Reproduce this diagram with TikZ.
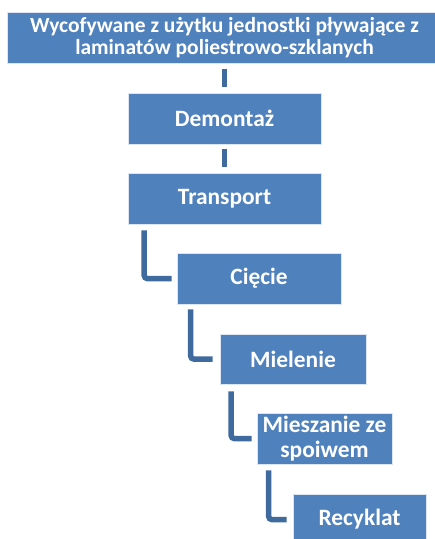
\documentclass[tikz,border=0pt]{standalone}
\usepackage{fontspec}
\setmainfont{Carlito}
\definecolor{boxblue}{HTML}{4F81BD}
\definecolor{connblue}{HTML}{3F6A9E}
\begin{document}
\begin{tikzpicture}[x=1bp,y=-1bp,
  box/.style={fill=boxblue, draw=white!80!boxblue, line width=0.6bp, inner sep=0pt,
    text=white, font=\bfseries\fontsize{23.5}{25}\selectfont, align=center,
    minimum height=51bp},
  conn/.style={draw=connblue, line width=5.5bp, rounded corners=3bp}]
\useasboundingbox (0,0) rectangle (435,539);
\clip (0,0) rectangle (435,539);
\node[box, minimum width=435bp, font=\bfseries\fontsize{21.6}{21.5}\selectfont] (top) at (224.5,37.5)
  {Wycofywane z użytku jednostki pływające z\\laminatów poliestrowo-szklanych};
\node[box, minimum width=193bp] (dem) at (224.5,118.5) {Demontaż};
\node[box, minimum width=193bp] (tr) at (224.5,198.5) {Transport};
\node[box, minimum width=164bp] (cie) at (259,278.5) {Cięcie};
\node[box, minimum width=146bp, minimum height=50bp] (miel) at (293,359) {Mielenie};
\node[box, minimum width=135bp] (mies) at (324.5,438.5) {Mieszanie ze\\spoiwem};
\node[box, minimum width=133bp] (rec) at (359.5,519.5) {Recyklat};
\draw[conn] ([yshift=-6bp]top.south -| dem.north) -- ([yshift=6bp]dem.north);
\draw[conn] ([yshift=-5bp]dem.south) -- ([yshift=6bp]tr.north);
\draw[conn] ([xshift=16.5bp,yshift=-6bp]tr.south west) |- ([xshift=-5bp]cie.west);
\draw[conn] ([xshift=14bp,yshift=-5bp]cie.south west) |- ([xshift=-7bp]miel.west);
\draw[conn] ([xshift=11.5bp,yshift=-7bp]miel.south west) |- ([xshift=-5bp]mies.west);
\draw[conn] ([xshift=12bp,yshift=-6bp]mies.south west) |- ([xshift=-6bp]rec.west);
\end{tikzpicture}
\end{document}
